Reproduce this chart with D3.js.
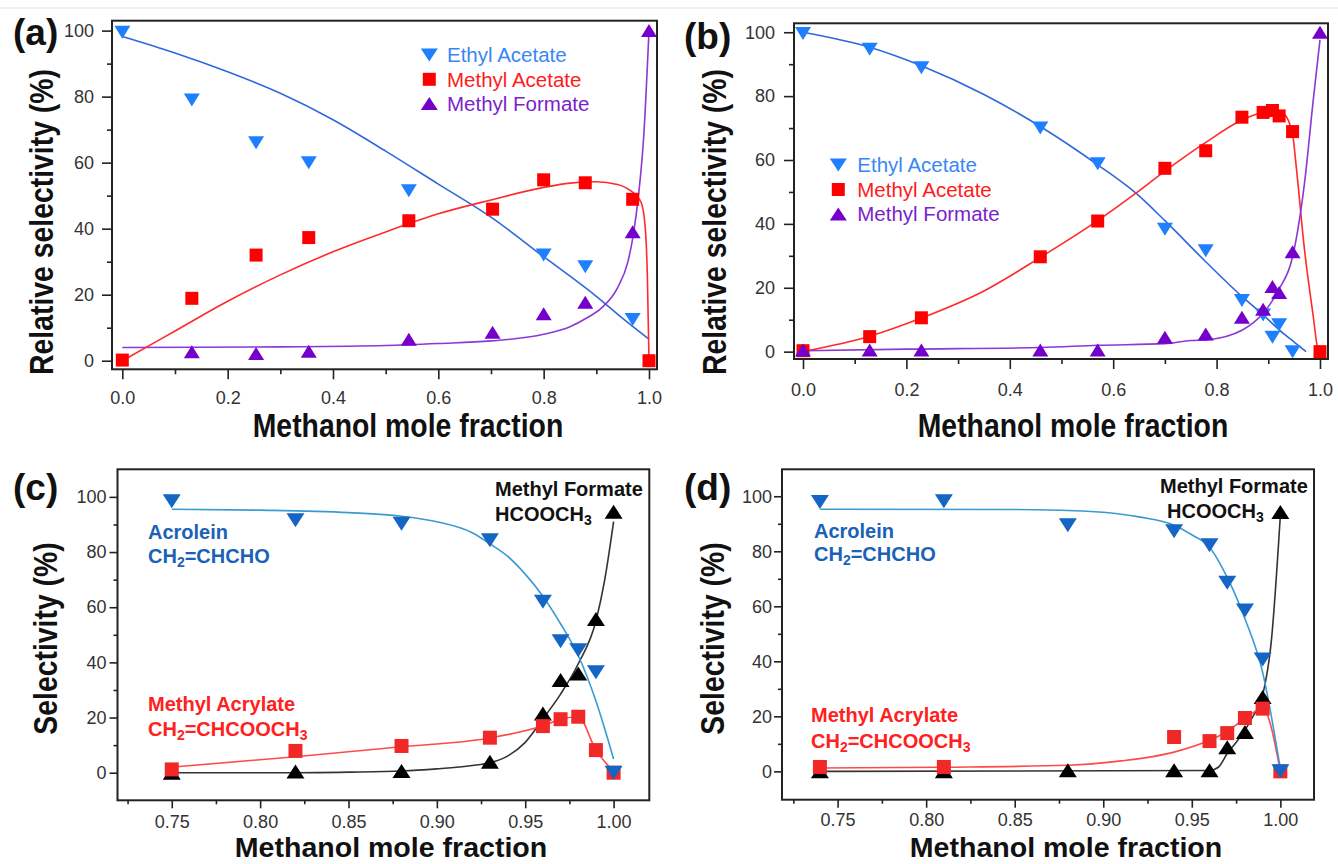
<!DOCTYPE html>
<html><head><meta charset="utf-8">
<script src="https://cdn.jsdelivr.net/npm/d3@7"></script>
<style>
body{margin:0;background:#fff}
svg{display:block}
text{font-family:"Liberation Sans",Arial,Helvetica,sans-serif}
</style>
</head><body>
<svg id="c" width="1338" height="864"></svg>
<script>
// ---------------- Panel (a) ----------------
const aEthylX = [0, 0.132, 0.254, 0.354, 0.544, 0.80, 0.879, 0.969];
const aEthylY = [99.5, 79, 66, 60, 51.5, 32, 28.5, 12.5];
const aAcetX = [0, 0.132, 0.254, 0.354, 0.544, 0.703, 0.80, 0.879, 0.969, 1.0];
const aAcetY = [0.2, 18.9, 32, 37.3, 42.4, 45.9, 54.8, 53.9, 48.9, 0];
const aFormX = [0.132, 0.254, 0.354, 0.544, 0.703, 0.80, 0.879, 0.969, 1.0];
const aFormY = [2.7, 2.2, 2.9, 6.5, 8.6, 14.2, 17.7, 39.1, 100];
const aEthylFitX = [0, 0.1, 0.2, 0.3, 0.4, 0.5, 0.6, 0.7, 0.8, 0.9, 0.95, 1.0];
const aEthylFitY = [98.2, 93.2, 87.5, 81, 73, 63.5, 53.5, 43.5, 31.5, 19.5, 12.8, 6.5];
const aAcetFitX = [0, 0.1, 0.2, 0.3, 0.4, 0.5, 0.6, 0.7, 0.8, 0.85, 0.9, 0.94, 0.965, 0.985, 0.993, 0.997, 1.0];
const aAcetFitY = [0, 9, 18, 26, 33, 39, 44.5, 48.7, 52.5, 53.8, 54.2, 53.4, 51.5, 48, 40, 25, 0];
const aFormFitX = [0, 0.3, 0.5, 0.6, 0.7, 0.8, 0.85, 0.88, 0.91, 0.94, 0.96, 0.97, 0.98, 0.99, 1.0];
const aFormFitY = [4, 4.2, 4.6, 5.2, 6, 8, 10.3, 12.8, 16, 22, 30, 38, 50, 68, 100];

// ---------------- Panel (b) ----------------
const bEthylX = [0, 0.129, 0.229, 0.459, 0.570, 0.700, 0.779, 0.849, 0.890, 0.908, 0.921, 0.947];
const bEthylY = [99.6, 94.7, 88.9, 70, 58.8, 38.3, 31.6, 16, 11.5, 4.5, 8.4, 0];
const bAcetX = [0, 0.129, 0.229, 0.459, 0.570, 0.700, 0.779, 0.849, 0.890, 0.908, 0.921, 0.947, 1.0];
const bAcetY = [0.3, 4.7, 10.6, 29.7, 40.9, 57.4, 62.9, 73.4, 74.9, 75.5, 73.8, 68.9, 0];
const bFormX = [0, 0.129, 0.229, 0.459, 0.570, 0.700, 0.779, 0.849, 0.890, 0.908, 0.921, 0.947, 1.0];
const bFormY = [0.5, 0.5, 0.5, 0.5, 0.5, 4.5, 5.5, 10.8, 13.3, 20.4, 18.5, 31.3, 100];
const bEthylFitX = [0, 0.129, 0.229, 0.35, 0.459, 0.57, 0.644, 0.7, 0.78, 0.849, 0.89, 0.92, 0.95, 0.973];
const bEthylFitY = [100, 95.3, 89.5, 80.5, 70.5, 58.5, 49.6, 41, 28, 17.3, 11.5, 7, 3, 0];
const bAcetFitX = [0, 0.129, 0.229, 0.35, 0.459, 0.57, 0.644, 0.7, 0.779, 0.849, 0.89, 0.91, 0.93, 0.947, 0.954, 0.97, 0.987, 0.995, 1.0];
const bAcetFitY = [0, 4.8, 10.5, 19, 29.5, 41, 49.6, 56.5, 65.5, 72.5, 75, 75.8, 74.5, 68, 58, 32, 11, 1.5, 0];
const bFormFitX = [0, 0.2, 0.46, 0.57, 0.7, 0.75, 0.78, 0.85, 0.89, 0.92, 0.947, 0.97, 0.987, 1.0];
const bFormFitY = [0.3, 0.8, 1.3, 2, 2.5, 3.5, 3.7, 6.8, 12, 19.3, 29.7, 52.7, 78.8, 97.6];

// ---------------- Panel (c) ----------------
const cX = [0.75, 0.82, 0.88, 0.93, 0.96, 0.97, 0.98, 0.99, 1.0];
const cAcrY = [98.4, 91.5, 90.3, 84.3, 62, 47.7, 44.4, 36.4, 0];
const cMAY = [1.2, 7.9, 9.7, 12.7, 16.9, 19.4, 20.3, 8.2, 0];
const cMFY = [0, 0.4, 0.6, 4, 21.5, 33.6, 36, 55.7, 94.6];
const cAcrFitX = [0.75, 0.8, 0.85, 0.88, 0.9, 0.92, 0.93, 0.94, 0.95, 0.96, 0.97, 0.98, 0.99, 1.0];
const cAcrFitY = [95.5, 95.2, 94.3, 93, 91, 87, 83, 78.5, 72, 64, 54, 42.5, 26, 5];
const cMAFitX = [0.75, 0.82, 0.88, 0.93, 0.96, 0.97, 0.98, 0.99, 1.0];
const cMAFitY = [2, 5.8, 9.4, 12.6, 17, 19.4, 20.3, 8.2, 0.5];
const cMFFitX = [0.75, 0.82, 0.85, 0.88, 0.9, 0.92, 0.93, 0.94, 0.95, 0.96, 0.97, 0.98, 0.99, 0.995, 1.0];
const cMFFitY = [0, 0, 0.2, 0.6, 1.4, 2.6, 3.6, 6, 11, 19.5, 28.5, 39.5, 55, 70, 91];

// ---------------- Panel (d) ----------------
const dX = [0.74, 0.81, 0.88, 0.94, 0.96, 0.97, 0.98, 0.99, 1.0];
const dAcrY = [97.9, 98.2, 89.5, 87.3, 82.2, 68.6, 58.5, 40.7, 0];
const dMAX = [0.74, 0.81, 0.94, 0.96, 0.97, 0.98, 0.99, 1.0];
const dMAY = [1.6, 1.6, 12.5, 11, 13.9, 19.4, 22.8, 0];
const dMFY = [0, 0, 0.4, 0.4, 0.4, 8.8, 14.3, 27, 94.3];
const dAcrFitX = [0.74, 0.85, 0.9, 0.92, 0.94, 0.95, 0.96, 0.97, 0.98, 0.99, 1.0];
const dAcrFitY = [95.3, 95.2, 94.2, 92.5, 89.5, 86, 81.5, 70.5, 55.5, 36, 1];
const dMAFitX = [0.74, 0.81, 0.88, 0.91, 0.94, 0.96, 0.97, 0.98, 0.99, 1.0];
const dMAFitY = [1.2, 1.5, 2.2, 3.8, 7, 11.3, 14.5, 19.2, 22.8, 0];
const dMFFitX = [0.74, 0.96, 0.965, 0.97, 0.975, 0.98, 0.985, 0.99, 0.995, 1.0];
const dMFFitY = [0, 0.3, 1.5, 6.5, 10.5, 15, 20.5, 27.6, 48, 93];

// tick labels
const abXTicks = [0, 0.2, 0.4, 0.6, 0.8, 1.0];
const abXMinor = [0.1, 0.3, 0.5, 0.7, 0.9];
const cdXTicks = [0.75, 0.80, 0.85, 0.90, 0.95, 1.00];
const cdXMinor = [0.725, 0.775, 0.825, 0.875, 0.925, 0.975];
const yTicks = [0, 20, 40, 60, 80, 100];
const yMinor = [10, 30, 50, 70, 90];
const legendNames = ["Ethyl Acetate", "Methyl Acetate", "Methyl Formate"];

const svg = d3.select('#c');
svg.append('line').attr('x1',0).attr('x2',1338).attr('y1',8).attr('y2',8)
  .attr('stroke','#ececec').attr('stroke-width',1.5);

const zip = (xs, ys) => xs.map((x,i)=>[x, ys[i]]);

function markerPath(type, cx, cy, w, h) {
  if (type === 'down') return `M${cx-w/2},${cy-h/2}L${cx+w/2},${cy-h/2}L${cx},${cy+h/2}Z`;
  if (type === 'up') return `M${cx-w/2},${cy+h/2}L${cx+w/2},${cy+h/2}L${cx},${cy-h/2}Z`;
  const s = w/2;
  return `M${cx-s},${cy-s}H${cx+s}V${cy+s}H${cx-s}Z`;
}

function panel(cfg) {
  const g = svg.append('g');
  const x = d3.scaleLinear().domain(cfg.xDom).range([cfg.L, cfg.R]);
  const y = d3.scaleLinear().domain(cfg.yDom).range([cfg.B, cfg.T]);

  const xa = g.append('g').attr('transform',`translate(0,${cfg.B})`)
    .call(d3.axisBottom(x).tickValues(cfg.xTicks).tickSize(cfg.tick).tickPadding(cfg.xPad).tickFormat(d3.format(cfg.xFmt)));
  const xm = g.append('g').attr('transform',`translate(0,${cfg.B})`)
    .call(d3.axisBottom(x).tickValues(cfg.xMinor).tickSize(cfg.tick/2).tickFormat(''));
  const ya = g.append('g').attr('transform',`translate(${cfg.L},0)`)
    .call(d3.axisLeft(y).tickValues(yTicks).tickSize(cfg.tick).tickPadding(cfg.yPad).tickFormat(d3.format('d')));
  const ym = g.append('g').attr('transform',`translate(${cfg.L},0)`)
    .call(d3.axisLeft(y).tickValues(yMinor).tickSize(cfg.tick/2).tickFormat(''));
  [xa,xm,ya,ym].forEach(a=>{
    a.select('.domain').remove();
    a.selectAll('line').attr('stroke','#222').attr('stroke-width',1.6);
    a.selectAll('text').attr('fill','#333').style('font-size','18px')
      .style('font-family','"Liberation Sans",Arial,sans-serif');
  });

  g.append('rect').attr('x',cfg.L).attr('y',cfg.T).attr('width',cfg.R-cfg.L).attr('height',cfg.B-cfg.T)
    .attr('fill','none').attr('stroke','#222').attr('stroke-width',2);

  const line = d3.line().x(d=>x(d[0])).y(d=>y(d[1])).curve(d3.curveMonotoneX);
  cfg.series.forEach(s=>{
    g.append('path').attr('d', line(zip(s.fx, s.fy))).attr('fill','none')
      .attr('stroke', s.lc).attr('stroke-width',1.6);
  });
  cfg.series.forEach(s=>{
    g.selectAll(null).data(zip(s.px, s.py)).enter().append('path')
      .attr('d', d=>markerPath(s.m, x(d[0]), y(d[1]), s.m==='sq'?cfg.sq:cfg.tw, cfg.th))
      .attr('fill', s.mc);
  });

  g.append('text').attr('x',cfg.lab[0]).attr('y',cfg.lab[1]).text(cfg.label)
    .style('font-size','37px').style('font-weight','bold').attr('fill','#111');
  g.append('text').attr('transform',`translate(${cfg.xt[0]},${cfg.xt[1]}) scale(${cfg.xts},1)`)
    .attr('text-anchor','middle').style('font-size',cfg.xfs+'px').style('font-weight','bold')
    .attr('fill','#111').text('Methanol mole fraction');
  g.append('text').attr('transform',`translate(${cfg.yt[0]},${cfg.yt[1]}) rotate(-90) scale(0.86,1)`)
    .attr('text-anchor','middle').style('font-size','33px').style('font-weight','bold')
    .attr('fill','#111').text(cfg.yTitle);
  return {g,x,y};
}

const colA = {blue:'#1e7fff', blueL:'#2f68dc', blueT:'#3a86f2', red:'#ff0000', redL:'#ff2a2a', redT:'#ff1a1a', pur:'#7500cc', purL:'#8a38d6', purT:'#7a22cc'};

function legend(g, mx, tx, y0, dy) {
  const types = ['down','sq','up'];
  const mcols = [colA.blue, colA.red, colA.pur];
  const tcols = [colA.blueT, colA.redT, colA.purT];
  legendNames.forEach((n,i)=>{
    const cy = y0 + i*dy;
    g.append('path').attr('d', markerPath(types[i], mx, cy, types[i]==='sq'?13:17, 13)).attr('fill', mcols[i]);
    g.append('text').attr('x',tx).attr('y',cy+7.2).text(n).attr('fill',tcols[i]).style('font-size','20.5px');
  });
}

// (a)
const pa = panel({L:112, R:657, T:20.7, B:369.3, xDom:[-0.0196,1.0152], yDom:[-2.6,103],
  xTicks:abXTicks, xMinor:abXMinor, xFmt:'.1f', tick:10, xPad:12, yPad:8, tw:16, th:13, sq:13,
  label:'(a)', lab:[13,45], xt:[408,437], xfs:33, xts:0.86, yt:[53,222], yTitle:'Relative selectivity (%)',
  series:[
    {fx:aEthylFitX, fy:aEthylFitY, lc:colA.blueL, px:aEthylX, py:aEthylY, m:'down', mc:colA.blue},
    {fx:aFormFitX, fy:aFormFitY, lc:colA.purL, px:aFormX, py:aFormY, m:'up', mc:colA.pur},
    {fx:aAcetFitX, fy:aAcetFitY, lc:colA.redL, px:aAcetX, py:aAcetY, m:'sq', mc:colA.red}
  ]});
legend(pa.g, 429.3, 447, 55, 24.3);

// (b)
const pb = panel({L:794, R:1328, T:23.3, B:359, xDom:[-0.0174,1.0155], yDom:[-2.3,102.8],
  xTicks:abXTicks, xMinor:abXMinor, xFmt:'.1f', tick:10, xPad:14, yPad:9, tw:16, th:13, sq:13,
  label:'(b)', lab:[684,48.5], xt:[1073,437], xfs:33, xts:0.86, yt:[726,222], yTitle:'Relative selectivity (%)',
  series:[
    {fx:bEthylFitX, fy:bEthylFitY, lc:colA.blueL, px:bEthylX, py:bEthylY, m:'down', mc:colA.blue},
    {fx:bAcetFitX, fy:bAcetFitY, lc:colA.redL, px:bAcetX, py:bAcetY, m:'sq', mc:colA.red},
    {fx:bFormFitX, fy:bFormFitY, lc:colA.purL, px:bFormX, py:bFormY, m:'up', mc:colA.pur}
  ]});
legend(pb.g, 838.3, 857.3, 165, 24.5);

const colC = {blue:'#1565c4', blueL:'#3a9ad2', blueT:'#1a62b8', red:'#f02828', redL:'#ff4a4a', redT:'#ff2020', blk:'#000', blkL:'#333'};

function annot(g, x0, y0, parts, color) {
  const t = g.append('text').attr('x',x0).attr('y',y0).attr('fill',color)
    .style('font-size','20px').style('font-weight','bold');
  parts.forEach(p=>{
    if (p.sub) t.append('tspan').text(p.t).style('font-size','14px').attr('dy',4);
    else t.append('tspan').text(p.t).attr('dy', p.up ? -4 : 0);
  });
}

// (c)
const pc = panel({L:117.5, R:649.3, T:469.3, B:800.3, xDom:[0.7193,1.0202], yDom:[-10,110],
  xTicks:cdXTicks, xMinor:cdXMinor, xFmt:'.2f', tick:8, xPad:7, yPad:3, tw:18, th:14, sq:14,
  label:'(c)', lab:[13,500], xt:[391,857], xfs:28, xts:1.02, yt:[57,638.5], yTitle:'Selectivity (%)',
  series:[
    {fx:cMFFitX, fy:cMFFitY, lc:colC.blkL, px:cX, py:cMFY, m:'up', mc:colC.blk},
    {fx:cMAFitX, fy:cMAFitY, lc:colC.redL, px:cX, py:cMAY, m:'sq', mc:colC.red},
    {fx:cAcrFitX, fy:cAcrFitY, lc:colC.blueL, px:cX, py:cAcrY, m:'down', mc:colC.blue}
  ]});
annot(pc.g, 148, 539, [{t:'Acrolein'}], colC.blueT);
annot(pc.g, 148, 563, [{t:'CH'},{t:'2',sub:true},{t:'=CHCHO',up:true}], colC.blueT);
annot(pc.g, 148, 711, [{t:'Methyl Acrylate'}], colC.redT);
annot(pc.g, 148, 736, [{t:'CH'},{t:'2',sub:true},{t:'=CHCOOCH',up:true},{t:'3',sub:true}], colC.redT);
annot(pc.g, 495, 496, [{t:'Methyl Formate'}], '#111');
annot(pc.g, 495, 521, [{t:'HCOOCH'},{t:'3',sub:true}], '#111');

// (d)
const pd = panel({L:782, R:1314, T:469.3, B:799.7, xDom:[0.7186,1.019], yDom:[-10.3,109.8],
  xTicks:cdXTicks, xMinor:cdXMinor, xFmt:'.2f', tick:8, xPad:6, yPad:2, tw:18, th:14, sq:14,
  label:'(d)', lab:[684,500], xt:[1066,857], xfs:28, xts:1.02, yt:[724,638.5], yTitle:'Selectivity (%)',
  series:[
    {fx:dMFFitX, fy:dMFFitY, lc:colC.blkL, px:dX, py:dMFY, m:'up', mc:colC.blk},
    {fx:dMAFitX, fy:dMAFitY, lc:colC.redL, px:dMAX, py:dMAY, m:'sq', mc:colC.red},
    {fx:dAcrFitX, fy:dAcrFitY, lc:colC.blueL, px:dX, py:dAcrY, m:'down', mc:colC.blue}
  ]});
annot(pd.g, 814, 537.5, [{t:'Acrolein'}], colC.blueT);
annot(pd.g, 814, 561, [{t:'CH'},{t:'2',sub:true},{t:'=CHCHO',up:true}], colC.blueT);
annot(pd.g, 811, 722, [{t:'Methyl Acrylate'}], colC.redT);
annot(pd.g, 811, 747.5, [{t:'CH'},{t:'2',sub:true},{t:'=CHCOOCH',up:true},{t:'3',sub:true}], colC.redT);
annot(pd.g, 1160, 493, [{t:'Methyl Formate'}], '#111');
annot(pd.g, 1167, 517.5, [{t:'HCOOCH'},{t:'3',sub:true}], '#111');
</script>
</body></html>
